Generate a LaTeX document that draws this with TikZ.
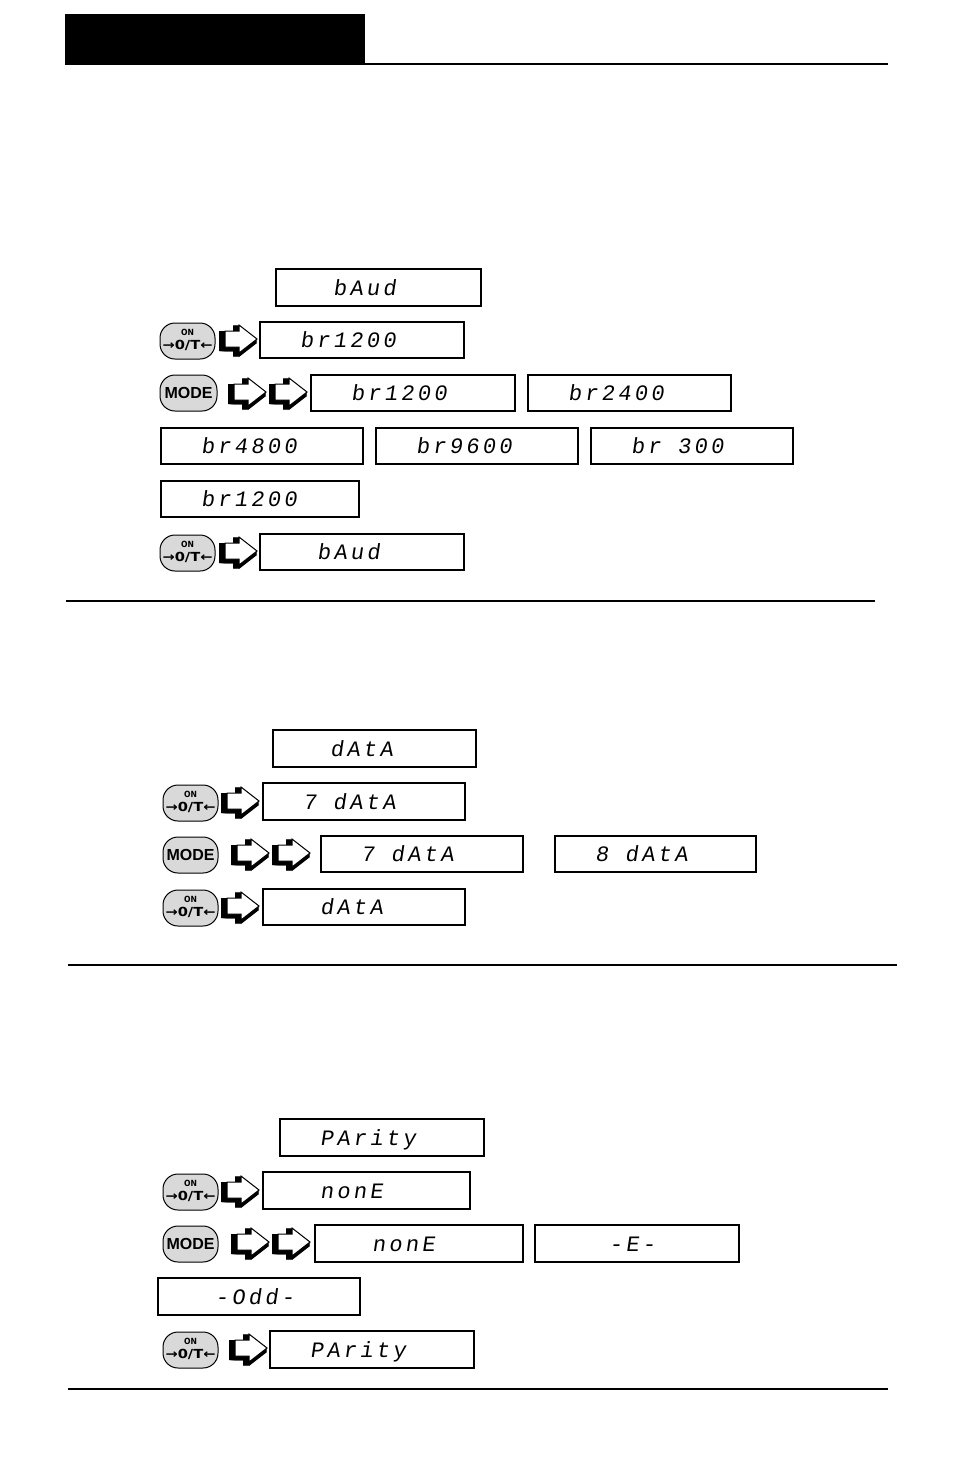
\documentclass[tikz,border=0pt]{standalone}
\usepackage{fontspec}
\usepackage{graphicx}
\setmainfont{Liberation Sans}
\newfontfamily\segfont{Liberation Mono}[FakeSlant=0.15,LetterSpace=15]
\newfontfamily\btnfont{DejaVu Sans Condensed}
\usetikzlibrary{calc}
\tikzset{
  disp/.style={draw, line width=1.4pt, inner sep=0pt, fill=white},
  seg/.style={font=\segfont\fontsize{22}{22}\selectfont, inner sep=0pt, anchor=base west},
  btn/.style={draw, line width=1pt, fill=gray!30, rounded corners=15pt, inner sep=0pt},
  btnsmall/.style={font=\btnfont\bfseries\fontsize{8.5}{8.5}\selectfont, inner sep=0pt},
  btnbig/.style={font=\btnfont\bfseries\fontsize{12.5}{12.5}\selectfont, inner sep=0pt},
  btnmode/.style={font=\bfseries\fontsize{16}{16}\selectfont, inner sep=0pt},
  arrowbody/.style={fill=white, draw=black, line width=1pt, line join=miter},
  rulethick/.style={line width=1.8pt},
  rulethin/.style={line width=1.1pt}
}
% display box: name, x1, y1, x2, y2, cell, text
\newcommand\dispbox[7]{%
  \node[disp, minimum width={(#4-#2)*1pt}, minimum height={(#5-#3)*1pt}] (#1) at ({(#2+#4)/2},{(#3+#5)/2}) {};
  \node[seg] (#1txt) at ({#2+40+#6*17},{(#3+#5)/2+7.5}) {#7};
}
% ON button: name, x1, y1, x2, y2
\newcommand\onbtn[5]{%
  \node[btn, minimum width={(#4-#2)*1pt}, minimum height={(#5-#3)*1pt}] (#1) at ({(#2+#4)/2},{(#3+#5)/2}) {};
  \node[btnsmall] (#1on) at ($(#1.center)+(0,-8.5)$) {ON};
  \node[btnbig] (#1zt) at ($(#1.center)+(0,4.5)$) {\scalebox{1.3}[1]{→0/T←}};
}
% MODE button
\newcommand\modebtn[5]{%
  \node[btn, minimum width={(#4-#2)*1pt}, minimum height={(#5-#3)*1pt}] (#1) at ({(#2+#4)/2},{(#3+#5)/2}) {};
  \node[btnmode] (#1lbl) at (#1.center) {MODE};
}
% extruded block arrow: left x of the black edge, centre y
\newcommand\blkarrow[2]{%
  \begin{scope}[shift={(#1,#2)}]
    \foreach \kx in {0,1,...,6}{\foreach \ky in {0,1,...,4}{%
      \fill[black] (6-\kx,-8+\ky) -- (20-\kx,-8+\ky) -- (20-\kx,-14+\ky) -- (38-\kx,0+\ky) -- (20-\kx,14+\ky) -- (20-\kx,8+\ky) -- (6-\kx,8+\ky) -- cycle;}}
    \filldraw[arrowbody] (6,-8) -- (20,-8) -- (20,-14) -- (38,0) -- (20,14) -- (20,8) -- (6,8) -- cycle;
  \end{scope}}
\begin{document}
\begin{tikzpicture}[x=1pt,y=-1pt]
\useasboundingbox (0,0) rectangle (954,1475);
% header
\fill[black] (65,14) rectangle (365,64);
\draw[line width=1.6pt] (65,64) -- (888,64);

% ---------- section 1 : baud ----------
\dispbox{a1}{276}{269}{481}{306}{1}{bAud}
\onbtn{b1}{160}{323}{215}{359}
\blkarrow{219}{339}
\dispbox{a2}{260}{322}{464}{358}{0}{br1200}
\modebtn{b2}{160}{375}{217}{411}
\blkarrow{228}{392}
\blkarrow{269}{392}
\dispbox{a3}{311}{375}{515}{411}{0}{br1200}
\dispbox{a4}{528}{375}{731}{411}{0}{br2400}
\dispbox{a5}{161}{428}{363}{464}{0}{br4800}
\dispbox{a6}{376}{428}{578}{464}{0}{br9600}
\dispbox{a7}{591}{428}{793}{464}{0}{br 300}
\dispbox{a8}{161}{481}{359}{517}{0}{br1200}
\onbtn{b3}{160}{535}{215}{571}
\blkarrow{219}{551}
\dispbox{a9}{260}{534}{464}{570}{1}{bAud}
\draw[rulethick] (66,601) -- (875,601);

% ---------- section 2 : data ----------
\dispbox{c1}{273}{730}{476}{767}{1}{dAtA}
\onbtn{d1}{163}{785}{218}{821}
\blkarrow{221}{801}
\dispbox{c2}{263}{783}{465}{820}{0}{7 dAtA}
\modebtn{d2}{163}{837}{218}{873}
\blkarrow{231}{853}
\blkarrow{272}{853}
\dispbox{c3}{321}{836}{523}{872}{0}{7 dAtA}
\dispbox{c4}{555}{836}{756}{872}{0}{8 dAtA}
\onbtn{d3}{163}{890}{218}{926}
\blkarrow{221}{906}
\dispbox{c5}{263}{889}{465}{925}{1}{dAtA}
\draw[rulethin] (68,965) -- (897,965);

% ---------- section 3 : parity ----------
\dispbox{e1}{280}{1119}{484}{1156}{0}{PArity}
\onbtn{g1}{163}{1174}{218}{1210}
\blkarrow{221}{1190}
\dispbox{e2}{263}{1172}{470}{1209}{1}{nonE}
\modebtn{g2}{163}{1226}{218}{1262}
\blkarrow{231}{1242}
\blkarrow{272}{1242}
\dispbox{e3}{315}{1225}{523}{1262}{1}{nonE}
\dispbox{e4}{535}{1225}{739}{1262}{2}{-E-}
\dispbox{e5}{158}{1278}{360}{1315}{1}{-Odd-}
\onbtn{g3}{163}{1332}{218}{1368}
\blkarrow{229}{1348}
\dispbox{e6}{270}{1331}{474}{1368}{0}{PArity}
\draw[rulethin] (68,1389) -- (888,1389);
\end{tikzpicture}
\end{document}
